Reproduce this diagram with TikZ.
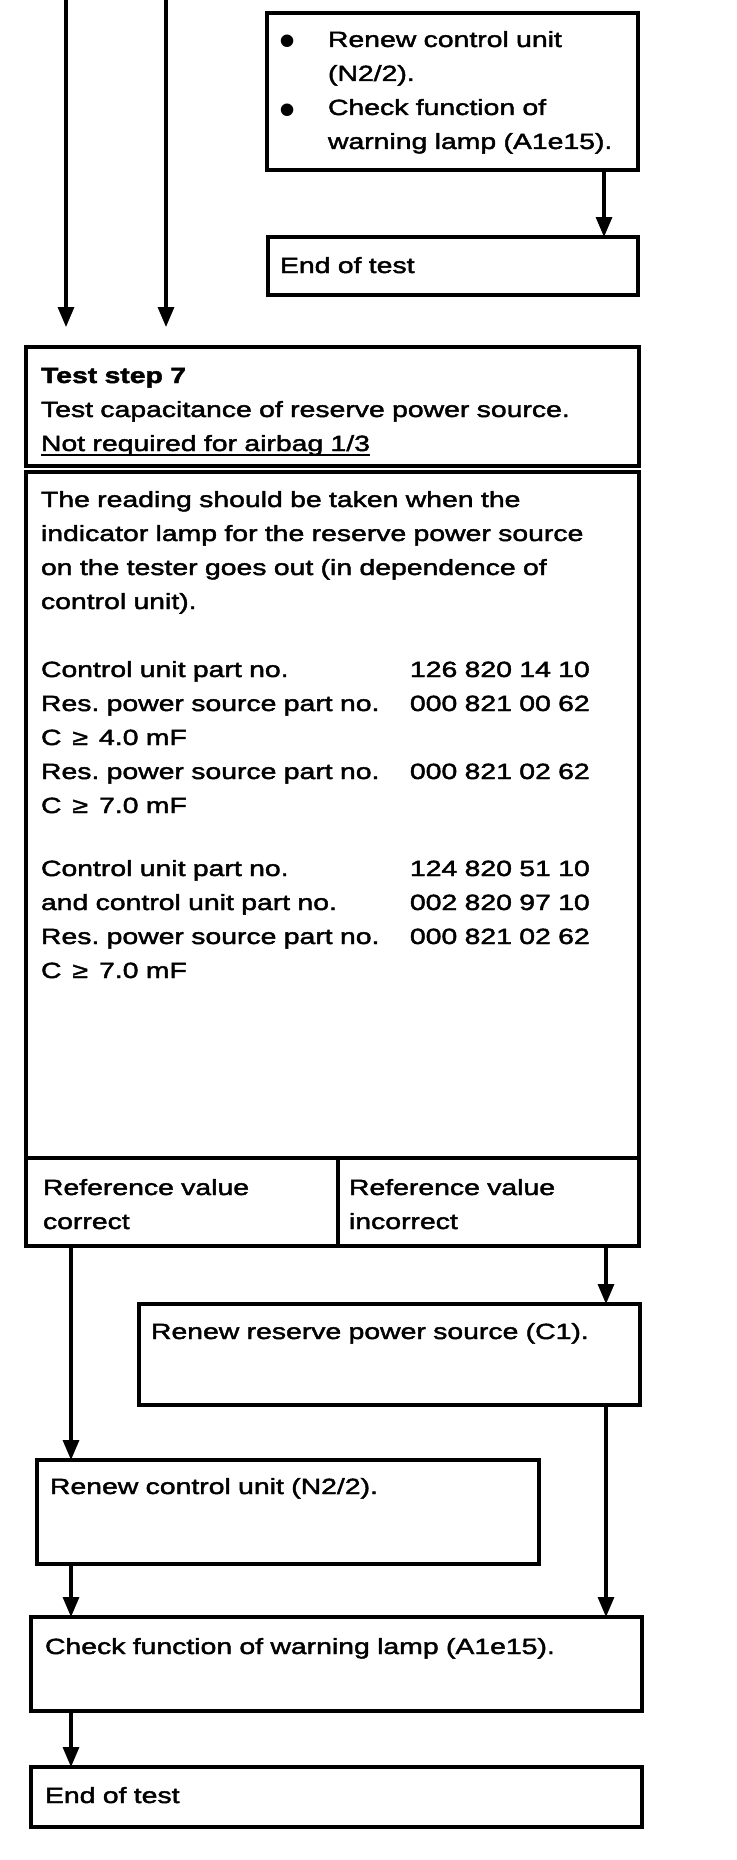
\documentclass[tikz,border=0pt]{standalone}
\usepackage{fontspec}
\setmainfont{Liberation Sans}[FakeStretch=1.29, FakeBold=2]
\newfontfamily\dotfont{Liberation Sans}
\usetikzlibrary{arrows.meta}
\newsavebox{\ulbox}
\newcommand{\undertext}[1]{\leavevmode\sbox{\ulbox}{#1}\rlap{\rule[-5pt]{\wd\ulbox}{2.2pt}}\usebox{\ulbox}}
\newcommand{\partno}[2]{\makebox[369pt][l]{#1}#2}
\newcommand{\bigdot}{\makebox[49pt][l]{\raisebox{-10pt}{\dotfont\fontsize{46pt}{34pt}\selectfont\textbullet}}}
\begin{document}
\begin{tikzpicture}[x=1pt,y=-1pt,line width=3.2pt,>={Triangle[length=20pt,width=16pt]},
  every node/.style={font=\fontsize{22pt}{34pt}\selectfont},
  stepbox/.style={draw, anchor=north west, outer sep=0pt, inner ysep=0pt, align=left}]
\useasboundingbox (0,0) rectangle (736,1860);
\coordinate (inL) at (66,0);
\coordinate (inR) at (166,0);
\node[stepbox, inner xsep=12pt, text width=347pt, text height=34pt, text depth=123pt] (renew) at (267,13) {\bigdot Renew control unit\\\hspace*{49pt}(N2/2).\\\bigdot Check function of\\\hspace*{49pt}warning lamp (A1e15).};
\node[stepbox, inner xsep=12pt, text width=346pt, text height=36pt, text depth=22pt] (endA) at (268,237) {End of test};
\node[stepbox, inner xsep=15pt, text width=583pt, text height=36pt, text depth=83pt] (step) at (26,347) {\textbf{Test step 7}\\Test capacitance of reserve power source.\\\undertext{Not required for airbag 1/3}};
\node[stepbox, inner xsep=15pt, text width=583pt, text height=35pt, text depth=651pt] (reading) at (26,472) {The reading should be taken when the\\indicator lamp for the reserve power source\\on the tester goes out (in dependence of\\control unit).\\[34pt]
\partno{Control unit part no.}{126 820 14 10}\\
\partno{Res.\ power source part no.}{000 821 00 62}\\
C \,≥ \,4.0 mF\\
\partno{Res.\ power source part no.}{000 821 02 62}\\
C \,≥ \,7.0 mF\\[29pt]
\partno{Control unit part no.}{124 820 51 10}\\
\partno{and control unit part no.}{002 820 97 10}\\
\partno{Res.\ power source part no.}{000 821 02 62}\\
C \,≥ \,7.0 mF};
\node[stepbox, inner xsep=17pt, text width=278pt, text height=37pt, text depth=51pt] (ok) at (26,1158) {Reference value\\correct};
\node[stepbox, inner xsep=11pt, text width=279pt, text height=37pt, text depth=51pt] (notok) at (338,1158) {Reference value\\incorrect};
\node[stepbox, inner xsep=12pt, text width=477pt, text height=35pt, text depth=66pt] (newsource) at (139,1304) {Renew reserve power source (C1).};
\node[stepbox, inner xsep=13pt, text width=476pt, text height=34pt, text depth=70pt] (newunit) at (37,1460) {Renew control unit (N2/2).};
\node[stepbox, inner xsep=14pt, text width=583pt, text height=37pt, text depth=57pt] (lamp) at (31,1617) {Check function of warning lamp (A1e15).};
\node[stepbox, inner xsep=14pt, text width=583pt, text height=36pt, text depth=24pt] (endB) at (31,1767) {End of test};
\draw[->, shorten >=20pt] (inL) -- (inL |- step.north);
\draw[->, shorten >=20pt] (inR) -- (inR |- step.north);
\draw[->] ([xshift=-34pt]renew.south east) -- ([xshift=-34pt]renew.south east |- endA.north);
\draw[->] ([xshift=45pt]ok.south west) -- ([xshift=45pt]ok.south west |- newunit.north);
\draw[->] ([xshift=-33pt]notok.south east) -- ([xshift=-33pt]notok.south east |- newsource.north);
\draw[->] ([xshift=-34pt]newsource.south east) -- ([xshift=-34pt]newsource.south east |- lamp.north);
\draw[->] ([xshift=34pt]newunit.south west) -- ([xshift=34pt]newunit.south west |- lamp.north);
\draw[->] ([xshift=40pt]lamp.south west) -- ([xshift=40pt]lamp.south west |- endB.north);
\end{tikzpicture}
\end{document}
